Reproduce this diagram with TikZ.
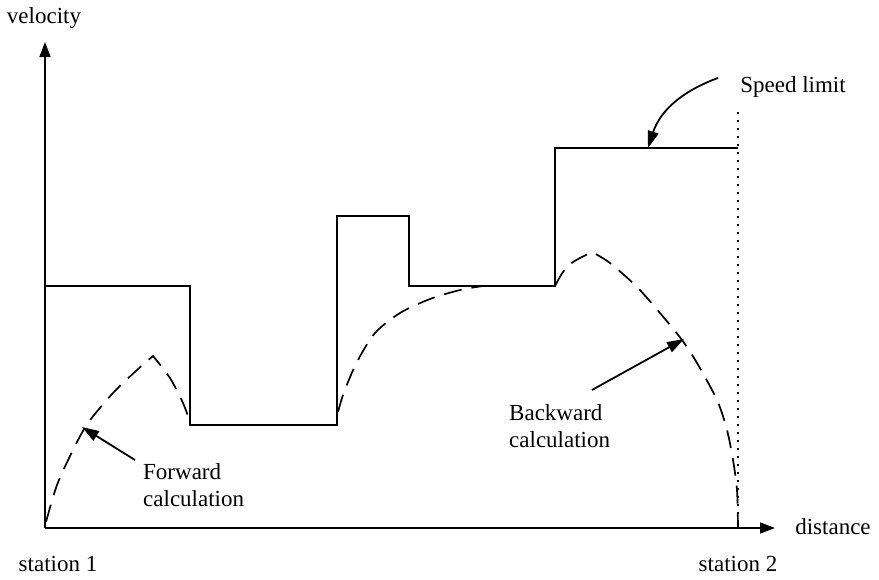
\documentclass[tikz,border=0pt]{standalone}
\usepackage{fontspec}
\setmainfont{Liberation Serif}
\usetikzlibrary{arrows.meta, positioning}

\begin{document}
\begin{tikzpicture}[x=1pt, y=-1pt,
    every node/.style={font=\fontsize{23}{27}\selectfont, inner sep=0pt},
    axisline/.style={line width=1.6pt, -{Triangle[length=15pt, width=11pt]}},
    bound/.style={line width=1.6pt},
    runcurve/.style={line width=1.7pt, dash pattern=on 18pt off 10pt},
    pointer/.style={line width=1.8pt, -{Triangle[length=17pt, width=11pt]}}]
  \useasboundingbox (0,0) rectangle (879,579);

  % axes
  \coordinate (o) at (45,528);
  \coordinate (ytop) at (45,42);
  \coordinate (xend) at (775,528);
  \draw[axisline] (o) -- (ytop);
  \draw[axisline] (o) -- (xend);
  \node (vel) at (44,18) {velocity};
  \node (dist) at (833,527) {distance};
  \node (st1) at (58,564) {station 1};
  \node (st2) at (738,564) {station 2};
  \draw[line width=1.3pt, dash pattern=on 1.5pt off 6.5pt] (738,112) -- (738,528);

  % speed limit
  \draw[bound] (45,286) -| (190,425) -| (337,216) -| (409,286) -| (555,148) -- (738,148);

  % forward / backward runs
  \draw[runcurve] plot[smooth] coordinates {(46,522) (57,485) (73,450) (88,423) (113,393) (137,370) (153,356)}
    -- plot[smooth] coordinates {(153,356) (170,378) (183,403) (190,422)};
  \draw[runcurve] plot[smooth] coordinates {(338,412) (342,398) (348,382) (358,360) (375,333) (400,313) (430,299) (460,290) (483,286)}
    -- (555,286)
    -- plot[smooth] coordinates {(555,286) (563,272) (573,262) (592,252)}
    -- plot[smooth] coordinates {(592,252) (610,263) (637,287) (660,313) (682,340) (697,363) (717,400) (727,430) (733,460) (737,490) (738,528)};

  % labels
  \node (lim) at (793,87) {Speed limit};
  \node[align=left, anchor=west] (fwd) at (143,485) {Forward\\calculation};
  \node[align=left, anchor=west] (bwd) at (509,426) {Backward\\calculation};
  \coordinate (limtail) at (718,78);
  \coordinate (limtip) at (648,148);
  \coordinate (fwdtail) at (135,460);
  \coordinate (fwdtip) at (82,427);
  \coordinate (bwdtail) at (592,390);
  \coordinate (bwdtip) at (684,339);
  \draw[pointer] (limtail) to[out=200, in=72] (limtip);
  \draw[pointer] (fwdtail) -- (fwdtip);
  \draw[pointer] (bwdtail) -- (bwdtip);
\end{tikzpicture}
\end{document}
